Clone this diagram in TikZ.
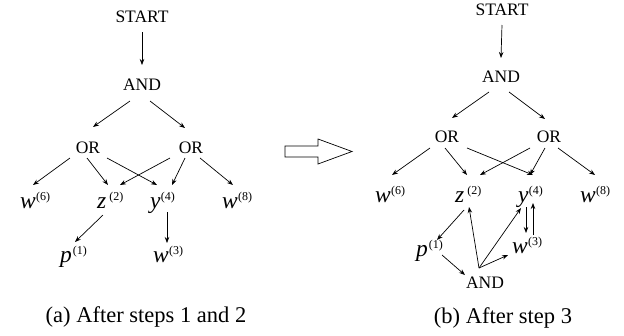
\documentclass[tikz,border=0pt]{standalone}
\usepackage{fontspec}
\setmainfont{Liberation Serif}
\usetikzlibrary{arrows.meta}
\newcommand{\vlab}[3]{{\fontsize{23.5}{23.5}\selectfont\itshape #1}\hspace{#3}\raisebox{7.5pt}{\fontsize{12}{12}\selectfont(#2)}}
\begin{document}
\begin{tikzpicture}[x=1pt,y=-1pt,
  word/.style={inner sep=0pt, font=\fontsize{17.5}{18}\selectfont},
  var/.style={inner sep=0pt, anchor=base west},
  arr/.style={-{Stealth[length=6pt,width=4.5pt]}, line width=0.7pt},
  captext/.style={inner sep=0pt, font=\fontsize{22.5}{24}\selectfont}]
\useasboundingbox (0,0) rectangle (624,335);

% ---------- left panel ----------
\node[word] (s1) at (142,17) {START};
\node[word] (a1) at (142,85) {AND};
\node[word] (o1) at (88,148) {OR};
\node[word] (o2) at (191,148) {OR};
\node[var] (w6) at (20,208) {\vlab{w}{6}{0.3pt}};
\node[var] (z) at (97,208) {\vlab{z}{2}{3pt}};
\node[var] (y) at (150,208) {\vlab{y}{4}{0.3pt}};
\node[var] (w8) at (222,208) {\vlab{w}{8}{0.3pt}};
\node[var] (p) at (60,262) {\vlab{p}{1}{1pt}};
\node[var] (w3) at (153,262) {\vlab{w}{3}{0.3pt}};
\node[captext] (ca) at (146,317) {(a) After steps 1 and 2};

\draw[arr] ([shift={(0,15)}]s1.center) -- ([shift={(0,-20)}]a1.center);
\draw[arr] ([shift={(-12,16)}]a1.center) -- ([shift={(5,-21)}]o1.center);
\draw[arr] ([shift={(8,16)}]a1.center) -- ([shift={(-6,-20)}]o2.center);
\draw[arr] ([shift={(-18,10)}]o1.center) -- ([shift={(13,-23)}]w6.base west);
\draw[arr] ([shift={(-1,10)}]o1.center) -- ([shift={(11,-23)}]z.base west);
\draw[arr] ([shift={(19,10)}]o1.center) -- ([shift={(7,-23)}]y.base west);
\draw[arr] ([shift={(-21,10)}]o2.center) -- ([shift={(23,-23)}]z.base west);
\draw[arr] ([shift={(-6,10)}]o2.center) -- ([shift={(22,-23)}]y.base west);
\draw[arr] ([shift={(9,10)}]o2.center) -- ([shift={(11,-23)}]w8.base west);
\draw[arr] ([shift={(6,7)}]z.base west) -- ([shift={(15,-20)}]p.base west);
\draw[arr] ([shift={(17,4)}]y.base west) -- ([shift={(14,-19)}]w3.base west);

% ---------- transition arrow ----------
\draw[line width=0.7pt, fill=white] (285,146) -- (318,146) -- (318,139) -- (352,151.5)
  -- (318,164) -- (318,157) -- (285,157) -- cycle;

% ---------- right panel ----------
\node[word] (s2) at (502,10) {START};
\node[word] (a2) at (501,77) {AND};
\node[word] (o3) at (447,137) {OR};
\node[word] (o4) at (549,137) {OR};
\node[var] (rw6) at (375,202) {\vlab{w}{6}{0.3pt}};
\node[var] (rz) at (455,202) {\vlab{z}{2}{3pt}};
\node[var] (ry) at (518,202) {\vlab{y}{4}{0.3pt}};
\node[var] (rw8) at (580,202) {\vlab{w}{8}{0.3pt}};
\node[var] (rp) at (416,256) {\vlab{p}{1}{1pt}};
\node[var] (rw3) at (512,253) {\vlab{w}{3}{0.3pt}};
\node[word] (a3) at (485,283) {AND};
\node[captext] (cb) at (503,318) {(b) After step 3};

\draw[arr] ([shift={(0,15)}]s2.center) -- ([shift={(0,-19)}]a2.center);
\draw[arr] ([shift={(-12,15)}]a2.center) -- ([shift={(5,-19)}]o3.center);
\draw[arr] ([shift={(8,15)}]a2.center) -- ([shift={(-4,-18)}]o4.center);
\draw[arr] ([shift={(-17,11)}]o3.center) -- ([shift={(17,-27)}]rw6.base west);
\draw[arr] ([shift={(-2,11)}]o3.center) -- ([shift={(12,-27)}]rz.base west);
\draw[arr] ([shift={(20,11)}]o3.center) -- ([shift={(15,-27)}]ry.base west);
\draw[arr] ([shift={(-19,11)}]o4.center) -- ([shift={(25,-27)}]rz.base west);
\draw[arr] ([shift={(-4,11)}]o4.center) -- ([shift={(12,-27)}]ry.base west);
\draw[arr] ([shift={(9,11)}]o4.center) -- ([shift={(15,-27)}]rw8.base west);
\draw[arr] ([shift={(9,8)}]rz.base west) -- ([shift={(21,-16)}]rp.base west);
\draw[arr] ([shift={(8,5)}]ry.base west) -- ([shift={(14,-20)}]rw3.base west);
\draw[arr] ([shift={(21,-18)}]rw3.base west) -- ([shift={(15,1)}]ry.base west);
\draw[arr] ([shift={(26,-1)}]rp.base west) -- ([shift={(-20,-8)}]a3.center);
\draw[arr] ([shift={(-6,-15)}]a3.center) -- ([shift={(14,5)}]rz.base west);
\draw[arr] ([shift={(-6,-15)}]a3.center) -- ([shift={(3,6)}]ry.base west);
\draw[arr] ([shift={(-6,-15)}]a3.center) -- ([shift={(-4,2)}]rw3.base west);
\end{tikzpicture}
\end{document}
